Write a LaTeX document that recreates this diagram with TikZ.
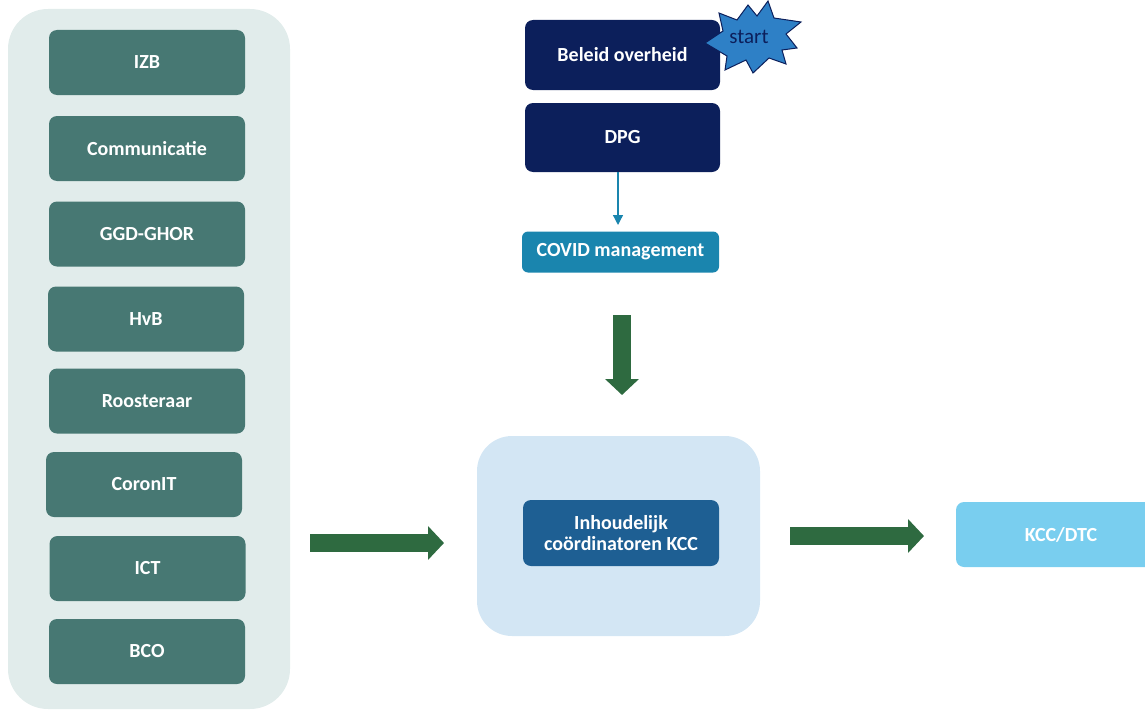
\documentclass[tikz,border=0pt]{standalone}
\usepackage{fontspec}
\setmainfont{Carlito}
\usetikzlibrary{arrows.meta,positioning}
\definecolor{panelL}{HTML}{E1ECEB}
\definecolor{tealbox}{HTML}{477873}
\definecolor{navy}{HTML}{0C1F5B}
\definecolor{covid}{HTML}{1A85AE}
\definecolor{bgreen}{HTML}{2E6A40}
\definecolor{panelC}{HTML}{D3E6F4}
\definecolor{inner}{HTML}{1E5F93}
\definecolor{kcc}{HTML}{79CEEF}
\definecolor{starblue}{HTML}{2E80C6}
\tikzset{
  box/.style={rounded corners=8pt, text=white, font=\bfseries\fontsize{20}{23}\selectfont, align=center, inner sep=0pt},
  leftbox/.style={box, fill=tealbox, minimum width=196pt, minimum height=65pt},
  navybox/.style={box, fill=navy, minimum width=195pt, minimum height=70pt},
  blockarrow/.style={draw=bgreen, line width=18pt, -{Triangle[width=33pt,length=16pt]}},
}
\begin{document}
\begin{tikzpicture}[x=1pt,y=-1pt]
\useasboundingbox (0,0) rectangle (1145,709);
% left panel
\node[fill=panelL, rounded corners=40pt, minimum width=282pt, minimum height=700pt, inner sep=0pt] (leftpanel) at (149,359) {};
\node[leftbox] (izb) at (147,62.5) {IZB};
\node[leftbox] (comm) at (147,148.5) {Communicatie};
\node[leftbox] (ggd) at (147,234) {GGD-GHOR};
\node[leftbox] (hvb) at (146,319) {HvB};
\node[leftbox] (roost) at (147,401) {Roosteraar};
\node[leftbox] (coron) at (144,484.5) {CoronIT};
\node[leftbox] (ict) at (147.5,568.5) {ICT};
\node[leftbox] (bco) at (147,651.5) {BCO};
% top column
\node[navybox] (beleid) at (622.5,55) {Beleid overheid};
\node[navybox, minimum height=69pt] (dpg) at (622.5,137.5) {DPG};
\node[box, fill=covid, rounded corners=6pt, minimum width=197pt, minimum height=41pt] (covid) at (620.5,252) {COVID management};
% start burst
\filldraw[fill=starblue, draw=navy, line width=1pt, line join=miter]
  (705,43) -- (723,31) -- (719,13) -- (737,20) -- (748,5) -- (757,16) -- (768,1)
  -- (774,18) -- (801,22) -- (786,34) -- (797,48) -- (782,50) -- (786,64)
  -- (769,58) -- (753,73) -- (746,60) -- (725,70) -- (727,56) -- cycle;
\node[text=navy, font=\fontsize{21}{24}\selectfont, inner sep=0pt] (start) at (749,37) {start};
% thin arrow
\coordinate (thinEnd) at (618,225);
\draw[covid, line width=1.3pt, -{Triangle[width=10pt,length=10pt]}] (dpg.south -| thinEnd) -- (thinEnd);
% center
\node[fill=panelC, rounded corners=35pt, minimum width=283pt, minimum height=200pt, inner sep=0pt] (center) at (618.5,536) {};
\node[box, fill=inner, minimum width=196pt, minimum height=66pt] (inh) at (621,533) {Inhoudelijk\\[-2pt]coördinatoren KCC};
\node[box, fill=kcc, minimum width=210pt, minimum height=65pt] (kccdtc) at (1061,534.5) {KCC/DTC};
% block arrows
\coordinate (downA) at (622,315);
\coordinate (downB) at (622,395);
\draw[blockarrow] (downA) -- (downB);
\coordinate (leftA) at (310,543);
\coordinate (leftB) at (444,543);
\draw[blockarrow] (leftA) -- (leftB);
\coordinate (rightA) at (790,536);
\coordinate (rightB) at (924,536);
\draw[blockarrow] (rightA) -- (rightB);
\end{tikzpicture}
\end{document}
